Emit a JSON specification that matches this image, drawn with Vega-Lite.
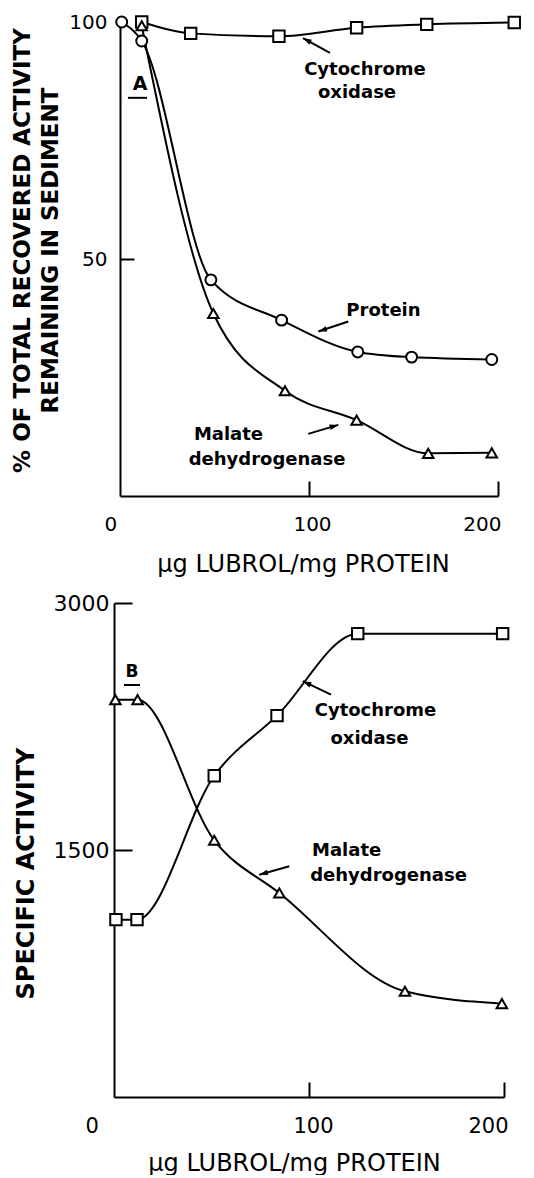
{
  "$schema": "https://vega.github.io/schema/vega-lite/v6.json",
  "background": "white",
  "padding": {"left": 11, "top": 12, "right": 0, "bottom": 0},
  "config": {
    "view": {"stroke": null},
    "font": "DejaVu Sans",
    "axis": {"grid": false, "domainColor": "black", "domainWidth": 2, "tickColor": "black", "tickWidth": 2, "labelColor": "black", "titleColor": "black", "labelFont": "DejaVu Sans", "titleFont": "DejaVu Sans", "labelAngle": 0, "format": "d"}
  },
  "datasets": {
    "top": [
      {"series": "Cytochrome oxidase", "x": 11.5, "y": 100},
      {"series": "Cytochrome oxidase", "x": 37.4, "y": 97.6},
      {"series": "Cytochrome oxidase", "x": 84.1, "y": 97.0},
      {"series": "Cytochrome oxidase", "x": 125.2, "y": 98.8},
      {"series": "Cytochrome oxidase", "x": 162.3, "y": 99.5},
      {"series": "Cytochrome oxidase", "x": 208.6, "y": 99.9},
      {"series": "Protein", "x": 0.9, "y": 100},
      {"series": "Protein", "x": 11.5, "y": 96.0},
      {"series": "Protein", "x": 48.1, "y": 45.6},
      {"series": "Protein", "x": 85.5, "y": 37.1},
      {"series": "Protein", "x": 125.8, "y": 30.4},
      {"series": "Protein", "x": 154.3, "y": 29.3},
      {"series": "Protein", "x": 196.7, "y": 28.8},
      {"series": "Malate dehydrogenase", "x": 11.5, "y": 99.2},
      {"series": "Malate dehydrogenase", "x": 49.4, "y": 38.5},
      {"series": "Malate dehydrogenase", "x": 87.3, "y": 22.2},
      {"series": "Malate dehydrogenase", "x": 125.2, "y": 16.0},
      {"series": "Malate dehydrogenase", "x": 163.1, "y": 9.0},
      {"series": "Malate dehydrogenase", "x": 196.7, "y": 9.1}
    ],
    "bottom": [
      {"series": "Malate dehydrogenase", "x": 0.7, "y": 2413},
      {"series": "Malate dehydrogenase", "x": 12.1, "y": 2413},
      {"series": "Malate dehydrogenase", "x": 51.4, "y": 1559},
      {"series": "Malate dehydrogenase", "x": 84.8, "y": 1239},
      {"series": "Malate dehydrogenase", "x": 149.2, "y": 642},
      {"series": "Malate dehydrogenase", "x": 198.9, "y": 567},
      {"series": "Cytochrome oxidase", "x": 1.0, "y": 1077},
      {"series": "Cytochrome oxidase", "x": 11.8, "y": 1077},
      {"series": "Cytochrome oxidase", "x": 51.4, "y": 1951},
      {"series": "Cytochrome oxidase", "x": 83.6, "y": 2316},
      {"series": "Cytochrome oxidase", "x": 125.0, "y": 2814},
      {"series": "Cytochrome oxidase", "x": 199.3, "y": 2814}
    ],
    "topText": [
      {"label": "Cytochrome", "x": 129.6, "y": 89.8},
      {"label": "oxidase", "x": 125.4, "y": 85.0},
      {"label": "Protein", "x": 139.4, "y": 39.1},
      {"label": "Malate", "x": 57.4, "y": 12.8},
      {"label": "dehydrogenase", "x": 77.8, "y": 7.6}
    ],
    "bottomText": [
      {"label": "Cytochrome", "x": 134.1, "y": 2347},
      {"label": "oxidase", "x": 131.0, "y": 2174},
      {"label": "Malate", "x": 119.3, "y": 1494},
      {"label": "dehydrogenase", "x": 140.8, "y": 1342}
    ],
    "topArrows": [
      {"x": 111.1, "y": 93.5, "x2": 96.8, "y2": 96.6, "angle": 298},
      {"x": 120.8, "y": 36.8, "x2": 104.9, "y2": 34.7, "angle": 252},
      {"x": 99.6, "y": 13.1, "x2": 115.5, "y2": 15.0, "angle": 74}
    ],
    "bottomArrows": [
      {"x": 111.3, "y": 2443, "x2": 96.8, "y2": 2525, "angle": 295},
      {"x": 89.9, "y": 1401, "x2": 74.5, "y2": 1350, "angle": 254}
    ],
    "topPanel": [{"label": "A", "x": 10.6, "y": 86.9, "u1": 4.2, "u2": 14.3, "uy": 84.0}],
    "bottomPanel": [{"label": "B", "x": 9.2, "y": 2581, "u1": 5.1, "u2": 13.3, "uy": 2502}]
  },
  "vconcat": [
    {
      "width": 378,
      "height": 474,
      "layer": [
        {
          "data": {"name": "top"},
          "mark": {"type": "line", "interpolate": "monotone", "color": "black", "strokeWidth": 2},
          "encoding": {
            "x": {"field": "x", "type": "quantitative", "scale": {"domain": [0, 200], "nice": false},
              "axis": {"values": [0, 100, 200], "tickSize": -15, "tickOpacity": {"condition": {"test": "datum.value == 0", "value": 0}, "value": 1},
                "labelFontSize": 20, "labelPadding": 33, "labelOffset": {"condition": {"test": "datum.value == 0", "value": -16}, "value": 3},
                "title": "μg LUBROL/mg PROTEIN", "titleFontSize": 24, "titleFontWeight": "normal", "titlePadding": 18, "titleX": 183}},
            "y": {"field": "y", "type": "quantitative", "scale": {"domain": [0, 100], "nice": false},
              "axis": {"values": [50, 100], "tickSize": -14, "tickOpacity": {"condition": {"test": "datum.value == 100", "value": 0}, "value": 1},
                "labelFontSize": 20, "labelPadding": 27,
                "title": ["% OF TOTAL RECOVERED ACTIVITY", "REMAINING IN SEDIMENT"], "titleFontSize": 23, "titleFontWeight": "bold", "titleLineHeight": 28, "titlePadding": 6, "titleY": 228}},
            "detail": {"field": "series"}
          }
        },
        {
          "data": {"name": "top"},
          "mark": {"type": "point", "filled": true, "fill": "white", "stroke": "black", "strokeWidth": 2, "opacity": 1},
          "encoding": {
            "x": {"field": "x", "type": "quantitative"},
            "y": {"field": "y", "type": "quantitative"},
            "shape": {"field": "series", "scale": {"domain": ["Cytochrome oxidase", "Protein", "Malate dehydrogenase"], "range": ["square", "circle", "triangle-up"]}, "legend": null},
            "size": {"field": "series", "type": "nominal", "scale": {"domain": ["Cytochrome oxidase", "Protein", "Malate dehydrogenase"], "range": [130, 110, 180]}, "legend": null}
          }
        },
        {
          "data": {"name": "topText"},
          "mark": {"type": "text", "fontSize": 18, "fontWeight": "bold", "font": "DejaVu Sans", "color": "black", "align": "center", "baseline": "middle"},
          "encoding": {
            "x": {"field": "x", "type": "quantitative"},
            "y": {"field": "y", "type": "quantitative"},
            "text": {"field": "label"}
          }
        },
        {
          "data": {"name": "topArrows"},
          "mark": {"type": "rule", "color": "black", "strokeWidth": 2},
          "encoding": {
            "x": {"field": "x", "type": "quantitative"},
            "y": {"field": "y", "type": "quantitative"},
            "x2": {"field": "x2"},
            "y2": {"field": "y2"}
          }
        },
        {
          "data": {"name": "topArrows"},
          "mark": {"type": "point", "shape": "M0,0L0.32,1L-0.32,1Z", "filled": true, "color": "black", "size": 300, "opacity": 1},
          "encoding": {
            "x": {"field": "x2", "type": "quantitative"},
            "y": {"field": "y2", "type": "quantitative"},
            "angle": {"field": "angle", "type": "quantitative", "scale": null}
          }
        },
        {
          "data": {"name": "topPanel"},
          "mark": {"type": "text", "fontSize": 19, "fontWeight": "bold", "font": "DejaVu Sans", "color": "black", "align": "center", "baseline": "middle"},
          "encoding": {
            "x": {"field": "x", "type": "quantitative"},
            "y": {"field": "y", "type": "quantitative"},
            "text": {"field": "label"}
          }
        },
        {
          "data": {"name": "topPanel"},
          "mark": {"type": "rule", "color": "black", "strokeWidth": 2},
          "encoding": {
            "x": {"field": "u1", "type": "quantitative"},
            "x2": {"field": "u2"},
            "y": {"field": "uy", "type": "quantitative"}
          }
        }
      ]
    },
    {
      "width": 390,
      "height": 494,
      "layer": [
        {
          "data": {"name": "bottom"},
          "mark": {"type": "line", "interpolate": "monotone", "color": "black", "strokeWidth": 2},
          "encoding": {
            "x": {"field": "x", "type": "quantitative", "scale": {"domain": [0, 200], "nice": false},
              "axis": {"values": [0, 100, 200], "tickSize": -15, "tickOpacity": {"condition": {"test": "datum.value == 0", "value": 0}, "value": 1},
                "labelFontSize": 21, "labelPadding": 33, "labelOffset": {"condition": {"test": "datum.value == 0", "value": -29}, "value": 4},
                "title": "μg LUBROL/mg PROTEIN", "titleFontSize": 24, "titleFontWeight": "normal", "titlePadding": 15, "titleX": 180}},
            "y": {"field": "y", "type": "quantitative", "scale": {"domain": [0, 3000], "nice": false},
              "axis": {"values": [1500, 3000], "tickSize": -18, "labelFontSize": 22, "labelPadding": 23,
                "title": "SPECIFIC ACTIVITY", "titleFontSize": 24, "titleFontWeight": "bold", "titlePadding": 15, "titleY": 270}},
            "detail": {"field": "series"}
          }
        },
        {
          "data": {"name": "bottom"},
          "mark": {"type": "point", "filled": true, "fill": "white", "stroke": "black", "strokeWidth": 2, "opacity": 1},
          "encoding": {
            "x": {"field": "x", "type": "quantitative"},
            "y": {"field": "y", "type": "quantitative"},
            "shape": {"field": "series", "scale": {"domain": ["Cytochrome oxidase", "Protein", "Malate dehydrogenase"], "range": ["square", "circle", "triangle-up"]}, "legend": null},
            "size": {"field": "series", "type": "nominal", "scale": {"domain": ["Cytochrome oxidase", "Protein", "Malate dehydrogenase"], "range": [140, 110, 190]}, "legend": null}
          }
        },
        {
          "data": {"name": "bottomText"},
          "mark": {"type": "text", "fontSize": 18, "fontWeight": "bold", "font": "DejaVu Sans", "color": "black", "align": "center", "baseline": "middle"},
          "encoding": {
            "x": {"field": "x", "type": "quantitative"},
            "y": {"field": "y", "type": "quantitative"},
            "text": {"field": "label"}
          }
        },
        {
          "data": {"name": "bottomArrows"},
          "mark": {"type": "rule", "color": "black", "strokeWidth": 2},
          "encoding": {
            "x": {"field": "x", "type": "quantitative"},
            "y": {"field": "y", "type": "quantitative"},
            "x2": {"field": "x2"},
            "y2": {"field": "y2"}
          }
        },
        {
          "data": {"name": "bottomArrows"},
          "mark": {"type": "point", "shape": "M0,0L0.32,1L-0.32,1Z", "filled": true, "color": "black", "size": 300, "opacity": 1},
          "encoding": {
            "x": {"field": "x2", "type": "quantitative"},
            "y": {"field": "y2", "type": "quantitative"},
            "angle": {"field": "angle", "type": "quantitative", "scale": null}
          }
        },
        {
          "data": {"name": "bottomPanel"},
          "mark": {"type": "text", "fontSize": 17, "fontWeight": "bold", "font": "DejaVu Sans", "color": "black", "align": "center", "baseline": "middle"},
          "encoding": {
            "x": {"field": "x", "type": "quantitative"},
            "y": {"field": "y", "type": "quantitative"},
            "text": {"field": "label"}
          }
        },
        {
          "data": {"name": "bottomPanel"},
          "mark": {"type": "rule", "color": "black", "strokeWidth": 2},
          "encoding": {
            "x": {"field": "u1", "type": "quantitative"},
            "x2": {"field": "u2"},
            "y": {"field": "uy", "type": "quantitative"}
          }
        }
      ]
    }
  ],
  "bounds": "flush",
  "center": true,
  "spacing": 107
}
